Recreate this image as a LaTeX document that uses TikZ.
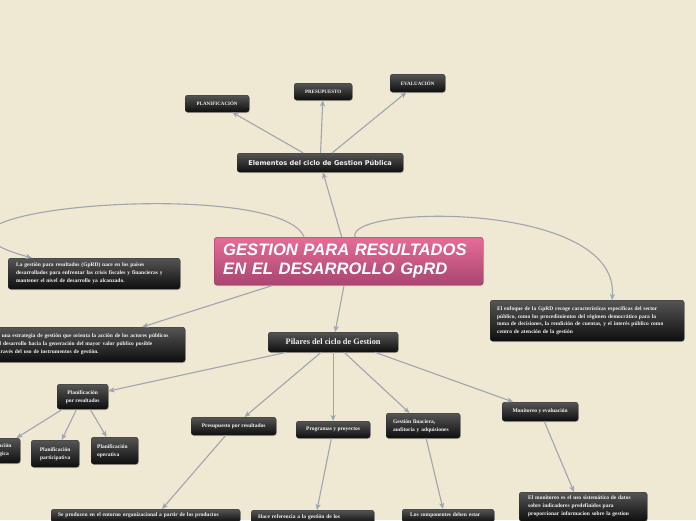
\documentclass[tikz,border=0pt]{standalone}
\usepackage{fontspec}
\setmainfont{Liberation Serif}
\newfontfamily\gsans{Liberation Sans}
\newfontfamily\dsans{DejaVu Sans}
\usetikzlibrary{arrows.meta,shadows,calc}
\definecolor{bg}{HTML}{EFE8D3}
\definecolor{conncol}{HTML}{9FA6AD}
\definecolor{boxtop}{HTML}{555555}
\definecolor{boxbot}{HTML}{0E0E0E}
\definecolor{pinktop}{HTML}{E66C98}
\definecolor{pinkbot}{HTML}{A94571}
\tikzset{
 x=1pt, y=-1pt,
 dbox/.style={rounded corners=2.5pt, top color=boxtop, bottom color=boxbot, draw=black!80,
   line width=0.3pt, text=white!95!black, font=\bfseries\fontsize{5.5}{8}\selectfont,
   inner sep=0pt, anchor=north west, align=center,
   drop shadow={opacity=0.3, shadow xshift=0.8pt, shadow yshift=-0.9pt}},
 lbox/.style={dbox, align=left},
 conn/.style={draw=conncol, line width=1.1pt, -{Stealth[length=6pt,width=5pt,inset=1.5pt]}},
}
\begin{document}
\begin{tikzpicture}
\useasboundingbox (0,0) rectangle (696,520);
\fill[bg] (0,0) rectangle (696,520);
\clip (0,0) rectangle (696,520);

% central
\node[rounded corners=3pt, top color=pinktop, bottom color=pinkbot, draw=pinkbot!80!black,
  line width=0.4pt, anchor=north west, inner xsep=9pt, inner ysep=0pt, text width=251pt,
  minimum height=48pt, align=left, text=white,
  font=\gsans\bfseries\itshape\fontsize{16.6}{19}\selectfont,
  drop shadow={opacity=0.25, shadow xshift=0.8pt, shadow yshift=-0.9pt}]
  (central) at (214,237) {GESTION PARA RESULTADOS\\EN EL DESARROLLO GpRD};

% top branch
\node[dbox, minimum width=166pt, minimum height=19pt, font=\dsans\bfseries\fontsize{6.6}{8}\selectfont]
  (elem) at (237,153) {Elementos del ciclo de Gestion Pública};
\node[dbox, minimum width=64pt, minimum height=17pt, font=\bfseries\fontsize{5}{6}\selectfont] (plan) at (185,95) {PLANIFICACIÓN};
\node[dbox, minimum width=58pt, minimum height=17pt, font=\bfseries\fontsize{5}{6}\selectfont] (pres) at (294,83) {PRESUPUESTO};
\node[dbox, minimum width=55pt, minimum height=18pt, font=\bfseries\fontsize{5}{6}\selectfont] (eval) at (390,74) {EVALUACIÓN};

% side boxes
\node[lbox, inner xsep=8pt, text width=156pt, minimum height=31pt] (lb1) at (8,258)
 {La gestión para resultados (GpRD) nace en los países\\desarrollados para enfrentar las crisis fiscales y financieras y\\mantener el nivel de desarrollo ya alcanzado.};
\node[lbox, inner xsep=6pt, text width=185pt, minimum height=35pt] (lb2) at (-12,327)
 {Es una estrategia de gestión que orienta la acción de los actores públicos\\del desarrollo hacia la generación del mayor valor público posible\\a través del uso de instrumentos de gestión.};
\node[lbox, inner xsep=7pt, text width=180pt, minimum height=41pt, font=\bfseries\fontsize{5.5}{7.8}\selectfont] (rb) at (490,300)
 {El enfoque de la GpRD recoge características específicas del sector\\público, como los procedimientos del régimen democrático para la\\toma de decisiones, la rendición de cuentas, y el interés público como\\centro de atención de la gestión};

% pilares
\node[dbox, minimum width=130pt, minimum height=20pt, font=\bfseries\fontsize{8.3}{10}\selectfont] (pil) at (268,332) {Pilares del ciclo de Gestion};
\node[dbox, minimum width=51pt, minimum height=25pt] (ppr) at (57,384) {Planificación\\por resultados};
\node[dbox, minimum width=48pt, minimum height=25pt] (est) at (-28,438) {Planificación\\estratégica};
\node[dbox, minimum width=48pt, minimum height=27pt] (par) at (31,440) {Planificación\\participativa};
\node[lbox, inner xsep=6pt, text width=35pt, minimum height=27pt] (ope) at (91,437) {Planificación\\operativa};
\node[dbox, minimum width=85pt, minimum height=18pt] (psr) at (191,417) {Presupuesto por resultados};
\node[dbox, minimum width=74pt, minimum height=17pt] (prg) at (296,421) {Programas y proyectos};
\node[lbox, inner xsep=7pt, text width=60pt, minimum height=25pt] (gfi) at (386,413) {Gestión finaciera,\\auditoría y adquisiones};
\node[dbox, minimum width=76pt, minimum height=19pt] (mon) at (502,402) {Monitoreo y  evaluación};

% bottom boxes (cut by the page edge)
\node[lbox, inner xsep=7pt, inner ysep=4pt, text width=175pt] (b1) at (51,509) {Se producen en el entorno organizacional a partir de los productos};
\node[lbox, inner xsep=7pt, inner ysep=4pt, text width=109pt] (b2) at (251,510) {Hace referencia a la gestión de los};
\node[lbox, inner xsep=8pt, inner ysep=4pt, text width=76pt] (b3) at (402,509) {Los componentes deben estar};
\node[lbox, inner xsep=9pt, inner ysep=4pt, text width=110pt] (b4) at (519,492) {El monitoreo es el uso sistemático de datos\\sobre indicadores predefinidos para\\proporcionar informacion sobre la gestion};

% connectors
\draw[conn] (central) -- (elem);
\draw[conn] (elem) -- (plan);
\draw[conn] (elem) -- (pres);
\draw[conn] (elem) -- (eval);
\coordinate (c1) at ($(central.north west)+(90,0)$);
\coordinate (t1) at ($(lb1.north west)+(24,0)$);
\draw[conn] (c1) .. controls (280,175) and (-140,210) .. (t1);
\coordinate (c2) at ($(central.north west)+(141,0)$);
\coordinate (t2) at ($(rb.north west)+(122,0)$);
\draw[conn] (c2) .. controls (345,205) and (620,200) .. (t2);
\draw[conn] (central) -- (lb2);
\draw[conn] (central) -- (pil);
\draw[conn] (pil) -- (ppr);
\draw[conn] (pil) -- (psr);
\draw[conn] (pil) -- (prg);
\draw[conn] (pil) -- (gfi);
\coordinate (p5) at ($(pil.south west)+(107,0)$);
\draw[conn] (p5) -- (mon);
\draw[conn] (ppr) -- (est);
\draw[conn] (ppr) -- (par);
\draw[conn] (ppr) -- (ope);
\coordinate (t3) at ($(b1.north west)+(111,0)$);
\draw[conn] (psr) -- (t3);
\coordinate (t4) at ($(b2.north west)+(66,0)$);
\draw[conn] (prg) -- (t4);
\coordinate (t5) at ($(b3.north west)+(41,0)$);
\draw[conn] (gfi) -- (t5);
\coordinate (t6) at ($(b4.north west)+(55,0)$);
\draw[conn] (mon) -- (t6);
\end{tikzpicture}
\end{document}
